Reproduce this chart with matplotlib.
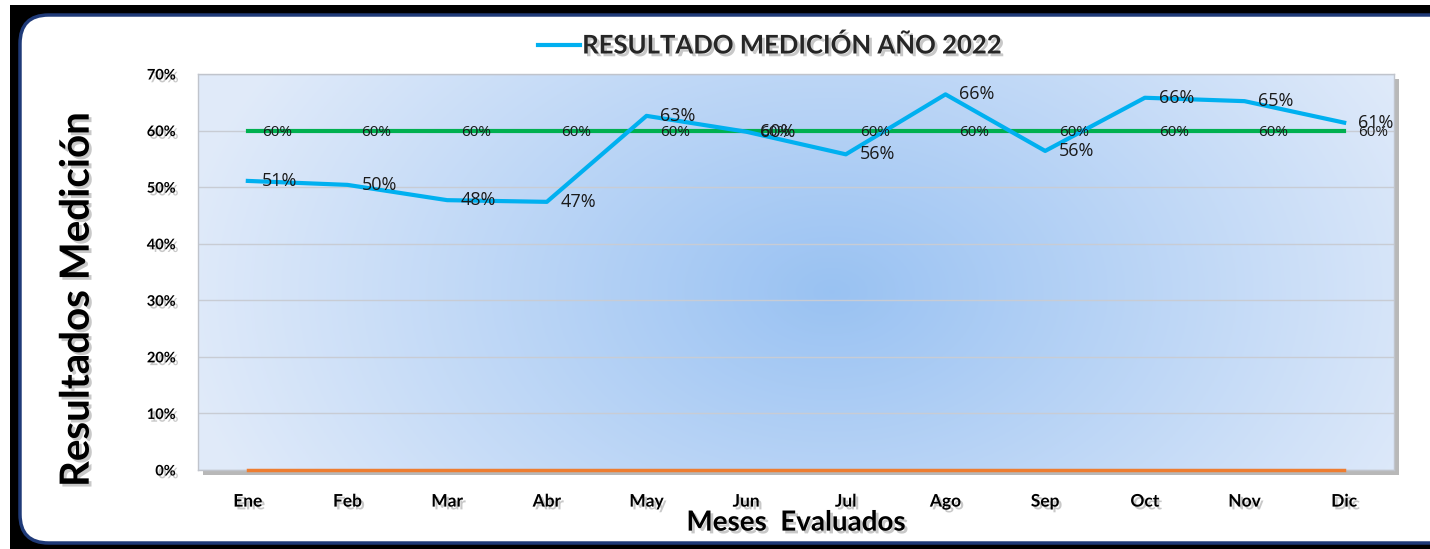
import numpy as np
import matplotlib
matplotlib.use("Agg")
import matplotlib.pyplot as plt
import matplotlib.patheffects as pe
from matplotlib.patches import Rectangle, FancyBboxPatch

plt.rcParams['font.family'] = ['Lato', 'DejaVu Sans']

meses = ['Ene', 'Feb', 'Mar', 'Abr', 'May', 'Jun', 'Jul', 'Ago', 'Sep', 'Oct', 'Nov', 'Dic']
resultado = [51.1, 50.4, 47.7, 47.4, 62.6, 59.8, 55.8, 66.4, 56.4, 65.8, 65.2, 61.4]
meta = [60] * 12
minimo = [0] * 12
serie_nombre = 'RESULTADO MEDICIÓN AÑO 2022'

W, H = 1430, 549
fig = plt.figure(figsize=(W / 100, H / 100), dpi=100)
fig.patch.set_facecolor('white')

def px(x, y):
    return x / W, 1 - y / H

# outer black frame and white rounded panel
fig.patches.append(Rectangle(px(10, 549), (W - 10) / W, (549 - 5) / H,
                             transform=fig.transFigure, facecolor='black',
                             edgecolor='none', zorder=0))
fig.patches.append(FancyBboxPatch(px(20, 543), (W - 20 + 80) / W, (543 - 15) / H,
                                  boxstyle='round,pad=0,rounding_size=0.02',
                                  mutation_aspect=W / H,
                                  transform=fig.transFigure, facecolor='white',
                                  edgecolor='#1f3a78', linewidth=2.5, zorder=0.5))

left, right, top, bottom = 198, 1394, 74, 470
ax = fig.add_axes([left / W, 1 - bottom / H, (right - left) / W, (bottom - top) / H])
ax.set_zorder(2)

# plot area shadow
fig.patches.append(Rectangle(px(left + 5, bottom + 5), (right - left) / W, (bottom - top) / H,
                             transform=fig.transFigure, facecolor='#8a8a8a',
                             edgecolor='none', alpha=0.6, zorder=0.8))

# radial gradient background
gx, gy = np.meshgrid(np.linspace(0, 1, 400), np.linspace(0, 1, 200))
d = np.sqrt(((gx - 0.53) / 0.55) ** 2 + ((gy - 0.45) / 1.1) ** 2)
d = np.clip(d, 0, 1)
c0 = np.array([0.60, 0.76, 0.95])
c1 = np.array([0.88, 0.92, 0.98])
img = c0[None, None, :] * (1 - d[..., None]) + c1[None, None, :] * d[..., None]
ax.imshow(img, extent=[0, 1, 0, 1], transform=ax.transAxes, aspect='auto',
          origin='lower', zorder=0)

x = np.arange(len(meses))
ax.set_xlim(-0.5, len(meses) - 0.5)
ax.set_ylim(0, 70)
ax.set_yticks(np.arange(0, 71, 10))
ax.set_yticklabels([f'{v}%' for v in range(0, 71, 10)])
ax.set_xticks(x)
ax.set_xticklabels(meses)
ax.grid(axis='y', color='#c8ccd4', linewidth=1, zorder=1)
ax.set_axisbelow(True)
for s in ax.spines.values():
    s.set_color('#c0c4cc')
    s.set_linewidth(1)
ax.tick_params(length=0)

shadow = [pe.SimplePatchShadow(offset=(2, -2), shadow_rgbFace='#777777', alpha=0.4), pe.Normal()]

for lab in ax.get_yticklabels():
    lab.set_fontsize(10.5)
    lab.set_fontweight('bold')
    lab.set_path_effects(shadow)
for lab in ax.get_xticklabels():
    lab.set_fontsize(12.5)
    lab.set_fontweight('bold')
    lab.set_path_effects(shadow)
ax.tick_params(axis='y', pad=16)
ax.tick_params(axis='x', pad=17)

ax.plot(x, minimo, color='#ed7d31', linewidth=2.5, zorder=3, clip_on=False)
ax.plot(x, meta, color='#00b050', linewidth=3, zorder=4)
linea, = ax.plot(x, resultado, color='#00b0f0', linewidth=3, zorder=5)

for xi, v in zip(x, meta):
    ax.text(xi + 0.14, v - 0.3, f'{v:.0f}%', fontsize=11, ha='left', va='center',
            color='#1a1a1a', zorder=6, family=['Open Sans', 'DejaVu Sans'])
for xi, v in zip(x, resultado):
    ax.text(xi + 0.14, v, f'{v:.0f}%', fontsize=13, ha='left', va='center',
            color='#1a1a1a', zorder=7, family=['Open Sans', 'DejaVu Sans'])

ax.set_ylabel('Resultados Medición', fontsize=29, fontweight='bold')
ax.yaxis.set_label_coords(-0.101, 0.43)
ax.yaxis.label.set_verticalalignment('center')
ax.yaxis.label.set_path_effects(shadow)
ax.set_xlabel('Meses  Evaluados', fontsize=20, fontweight='bold', labelpad=0)
ax.xaxis.label.set_path_effects(shadow)

leg = fig.legend([linea], [serie_nombre], loc='center', bbox_to_anchor=(771 / W, 1 - 45 / H),
                 frameon=False, handlelength=1.6, handletextpad=0.1,
                 prop={'weight': 'bold', 'size': 18.5})
for t in leg.get_texts():
    t.set_color('#262626')
    t.set_path_effects(shadow)

fig.savefig('out.png', dpi=100, facecolor=fig.get_facecolor())
